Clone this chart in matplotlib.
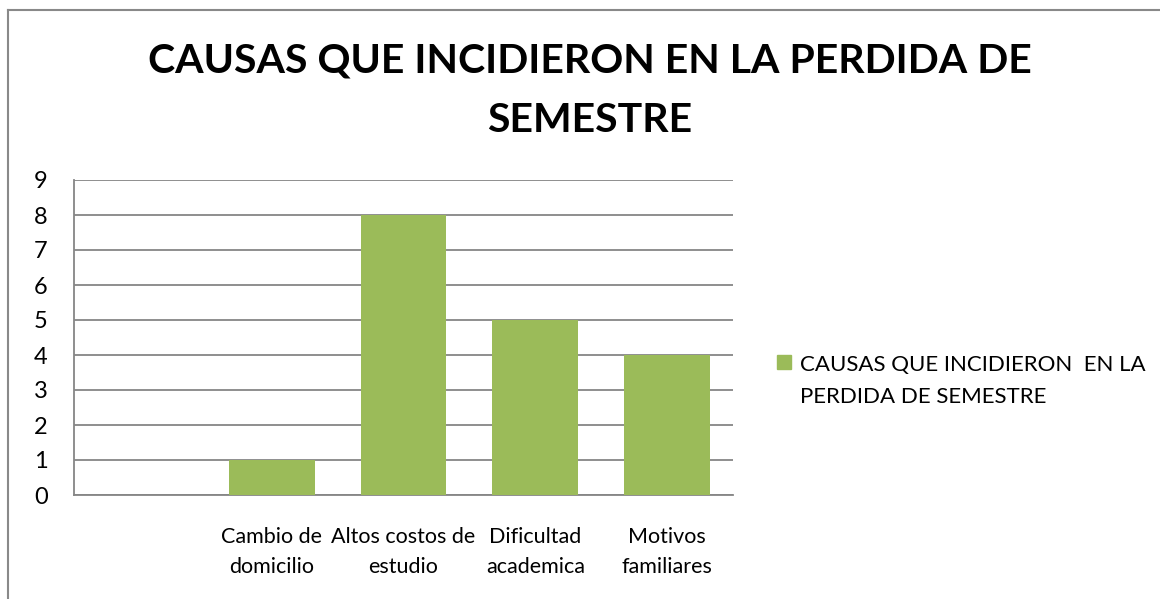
import matplotlib.pyplot as plt
import numpy as np
from matplotlib.lines import Line2D
from matplotlib.patches import Rectangle

# Datos del grafico
categorias = ["", "Cambio de\ndomicilio", "Altos costos de\nestudio",
              "Dificultad\nacademica", "Motivos\nfamiliares"]
valores = [0, 1, 8, 5, 4]
serie = "CAUSAS QUE INCIDIERON  EN LA\nPERDIDA DE SEMESTRE"
titulo = "CAUSAS QUE INCIDIERON EN LA PERDIDA DE\nSEMESTRE"

plt.rcParams['font.family'] = ['Lato', 'DejaVu Sans']
verde = "#9BBB59"
gris = "#868686"

fig = plt.figure(figsize=(11.6, 5.99), dpi=100)
ax = fig.add_axes([74 / 1160, 1 - 495 / 599, (733 - 74) / 1160, (495 - 180) / 599])

x = np.arange(len(categorias))
ax.bar(x, valores, width=0.65, color=verde, label=serie, zorder=3)

ax.set_xlim(-0.5, len(categorias) - 0.5)
ax.set_ylim(0, 9)
ax.set_yticks(range(0, 10))
ax.set_xticks(x)
ax.set_xticklabels(categorias, fontsize=15.5, linespacing=1.6)
ax.tick_params(axis='x', length=0, pad=23)
ax.tick_params(axis='y', length=0, pad=19, labelsize=17)
ax.yaxis.grid(True, color=gris, linewidth=1.3, zorder=0)

for lado in ['top', 'right']:
    ax.spines[lado].set_visible(False)
for lado in ['left', 'bottom']:
    ax.spines[lado].set_color(gris)
    ax.spines[lado].set_linewidth(1.3)

# Titulo
fig.text(590 / 1160, 1 - 91 / 599, titulo, ha='center', va='center',
         fontsize=29.5, fontweight='bold', linespacing=1.75)

# Leyenda (cuadro + texto, alineado con la primera linea)
fig.add_artist(Rectangle((777 / 1160, 1 - 369 / 599), 14 / 1160, 14 / 599,
                         transform=fig.transFigure, color=verde))
fig.text(800 / 1160, 1 - 381 / 599, serie, ha='left', va='center',
         fontsize=16, linespacing=1.75)

# Borde del area del grafico
fig.add_artist(Line2D([8 / 1160, 8 / 1160], [0, 1 - 10 / 599],
                      transform=fig.transFigure, color="#898989", linewidth=1.5))
fig.add_artist(Line2D([8 / 1160, 1], [1 - 10 / 599, 1 - 10 / 599],
                      transform=fig.transFigure, color="#898989", linewidth=1.5))

fig.savefig("out.png", dpi=100)
